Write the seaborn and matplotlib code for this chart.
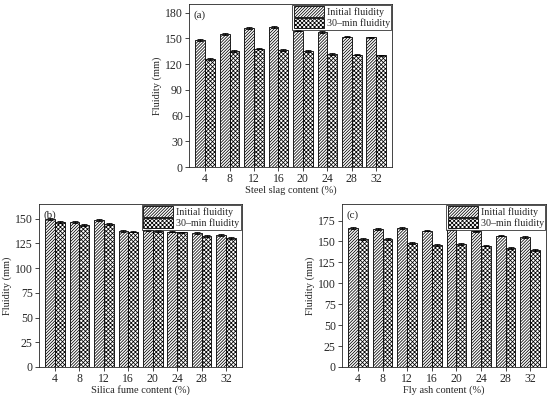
import pandas as pd
import matplotlib
matplotlib.use('Agg')
import matplotlib.pyplot as plt
import seaborn as sns

# Chart data
contents = [4, 8, 12, 16, 20, 24, 28, 32]
series_names = ['Initial fluidity', '30\u2013min fluidity']

slag_initial = [148, 155, 162, 163, 159, 157, 152, 151]
slag_30min = [126, 135, 138, 136, 135, 132, 131, 130]

silica_initial = [150, 147, 149, 138, 139, 137, 135, 133]
silica_30min = [147, 144, 145, 137, 138, 136, 132, 130]

flyash_initial = [166, 165, 166, 163, 165, 162, 157, 155]
flyash_30min = [153, 153, 148, 146, 147, 145, 142, 140]

err_size = 1.0

sns.set_theme(style='ticks')
plt.rcParams['font.family'] = ['Liberation Serif', 'DejaVu Serif']
plt.rcParams['hatch.linewidth'] = 0.55
plt.rcParams['hatch.color'] = '#222222'

fig = plt.figure(figsize=(5.5, 3.95), dpi=100)

panels = [
    ('(a)', 'Steel slag content (%)', slag_initial, slag_30min, [0.344, 0.577, 0.369, 0.413], 190, [0, 30, 60, 90, 120, 150, 180]),
    ('(b)', 'Silica fume content (%)', silica_initial, silica_30min, [0.071, 0.071, 0.369, 0.413], 165, [0, 25, 50, 75, 100, 125, 150]),
    ('(c)', 'Fly ash content (%)', flyash_initial, flyash_30min, [0.622, 0.071, 0.371, 0.413], 195, [0, 25, 50, 75, 100, 125, 150, 175]),
]

hatches = ['/' * 11, 'x' * 8]

for tag, xlabel, init_vals, min30_vals, rect, ytop, yticks in panels:
    ax = fig.add_axes(rect)
    df = pd.DataFrame({
        'Content': [str(c) for c in contents] * 2,
        'Fluidity': init_vals + min30_vals,
        'Series': [series_names[0]] * len(contents) + [series_names[1]] * len(contents),
    })
    sns.barplot(data=df, x='Content', y='Fluidity', hue='Series', ax=ax,
                palette=['white', 'white'], edgecolor='black', linewidth=0.6,
                width=0.8, errorbar=None)
    for container, h in zip(ax.containers, hatches):
        for bar in container:
            bar.set_hatch(h)
            x = bar.get_x() + bar.get_width() / 2
            ax.errorbar(x, bar.get_height(), yerr=err_size, color='black',
                        capsize=2, elinewidth=0.6, capthick=0.6)
    ax.set_xlim(-0.65, 7.65)
    ax.set_ylim(0, ytop)
    ax.set_yticks(yticks)
    ax.set_xlabel(xlabel, fontsize=7.5, labelpad=0)
    ax.set_ylabel('Fluidity (mm)', fontsize=7.5, labelpad=2)
    ax.tick_params(labelsize=8.5, length=3, width=0.6, pad=1.5)
    for sp in ax.spines.values():
        sp.set_linewidth(0.6)
    ax.text(0.02, 0.96, tag, transform=ax.transAxes, fontsize=8, va='top', ha='left')
    leg = ax.legend(loc='upper right', fontsize=7.2, frameon=True, fancybox=False,
                    edgecolor='black', handlelength=3.0, handleheight=1.2,
                    borderaxespad=0.1, borderpad=0.15, labelspacing=0.1,
                    handletextpad=0.3, title=None)
    leg.get_frame().set_linewidth(0.6)
    for patch, h in zip(leg.get_patches(), hatches):
        patch.set_hatch(h)

fig.savefig('out.png', dpi=100)
